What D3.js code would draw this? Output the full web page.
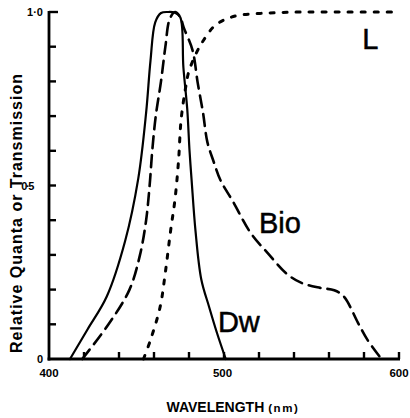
<!DOCTYPE html>
<html>
<head>
<meta charset="utf-8">
<script src="https://cdn.jsdelivr.net/npm/d3@7"></script>
<style>
  html, body { margin: 0; padding: 0; background: #fff; }
  svg { display: block; }
  text { font-family: "Liberation Sans", Arial, Helvetica, sans-serif; fill: #000; }
</style>
</head>
<body>
<svg id="chart" width="410" height="418"></svg>
<script>
// Spectral curves: wavelength (nm) and relative value
const dwWave  = [412, 422, 433, 443.5, 451, 455.5, 458, 460.7, 464, 468, 472, 475, 476.8, 479, 480.3, 481.5, 483.7, 487, 491.5, 496, 501];
const dwValue = [0, 0.085, 0.18, 0.34, 0.52, 0.71, 0.86, 0.97, 0.997, 1.0, 0.998, 0.985, 0.84, 0.72, 0.6, 0.515, 0.37, 0.23, 0.15, 0.075, 0];

const bioWave  = [419, 434, 446, 452, 455.5, 457.5, 459, 461, 464, 466.5, 469, 472, 475, 477, 482, 485, 488, 490.5, 494, 498, 505, 515, 525, 536, 544, 555, 563, 568.5, 576.5, 582, 590];
const bioValue = [0, 0.1, 0.2, 0.3, 0.4, 0.5, 0.6, 0.7, 0.8, 0.9, 0.98, 1.0, 0.985, 0.955, 0.89, 0.795, 0.71, 0.625, 0.57, 0.515, 0.455, 0.365, 0.305, 0.245, 0.22, 0.205, 0.198, 0.18, 0.105, 0.055, 0];

const lWave  = [454, 458, 463.5, 466.5, 469.5, 472, 474, 475.5, 478, 480, 485, 488.5, 494, 500, 508, 525, 545, 570, 596];
const lValue = [0, 0.055, 0.15, 0.25, 0.37, 0.46, 0.57, 0.69, 0.78, 0.83, 0.89, 0.92, 0.957, 0.977, 0.99, 0.997, 1.0, 1.0, 1.0];

// Axis ticks and labels
const xTicks = [420, 440, 460, 480, 500, 520, 540, 560, 580, 600];
const xTickLabels = ["400", "500", "600"];
const xTickLabelValues = [400, 500, 600];
const yTicks = [0.1, 0.2, 0.3, 0.4, 0.5, 0.6, 0.7, 0.8, 0.9, 1.0];
const yTickLabels = ["0", "0·5", "1·0"];
const yTickLabelValues = [0, 0.5, 1.0];

// Curve labels
const curveNames = ["L", "Bio", "Dw"];
const curveNameWave = [579, 520, 496.5];
const curveNameValue = [0.893, 0.363, 0.078];

const svg = d3.select("#chart");
const x = d3.scaleLinear().domain([400, 600]).range([49, 399]);
const y = d3.scaleLinear().domain([0, 1]).range([359, 12]);

// Axis lines
svg.append("line").attr("x1", x(400)).attr("x2", x(400)).attr("y1", y(1) - 1).attr("y2", y(0) + 1.5)
  .attr("stroke", "#000").attr("stroke-width", 2.8);
svg.append("line").attr("x1", x(400) - 1.4).attr("x2", x(600) + 1).attr("y1", y(0)).attr("y2", y(0))
  .attr("stroke", "#000").attr("stroke-width", 2.8);

// Inward ticks
svg.append("g").attr("class", "xticks")
  .selectAll("rect").data(xTicks).enter().append("rect")
  .attr("x", d => x(d) - 1.2).attr("y", y(0) - 7)
  .attr("width", 2.4).attr("height", 7)
  .attr("fill", "#000");

svg.append("g").attr("class", "yticks")
  .selectAll("rect").data(yTicks).enter().append("rect")
  .attr("x", x(400)).attr("y", d => y(d) - 1.2)
  .attr("width", d => d === 1.0 ? 9 : 7).attr("height", 2.4)
  .attr("fill", "#000");

// Tick labels
svg.selectAll(".xlab").data(xTickLabelValues).enter().append("text")
  .attr("x", d => x(d) - (d === 500 ? 1.5 : 0))
  .attr("y", y(0) + 18)
  .attr("text-anchor", "middle")
  .attr("font-size", 11.5).attr("font-weight", "bold")
  .text((d, i) => xTickLabels[i]);

const yLabDx = { 0: -6, 0.5: -16, 1: -6 };
svg.selectAll(".ylab").data(yTickLabelValues).enter().append("text")
  .attr("x", d => x(400) + yLabDx[d])
  .attr("y", d => y(d) + 4)
  .attr("text-anchor", "end")
  .attr("font-size", 11).attr("font-weight", "bold")
  .attr("letter-spacing", d => d === 0.5 ? -1.4 : 0)
  .text((d, i) => yTickLabels[i]);

// Axis titles
svg.append("text")
  .attr("transform", `translate(21.5,213) rotate(-90)`)
  .attr("text-anchor", "middle")
  .attr("font-size", 16).attr("font-weight", "bold")
  .attr("letter-spacing", 1)
  .text("Relative Quanta or Transmission");

const xt = svg.append("text")
  .attr("x", 233).attr("y", 412)
  .attr("text-anchor", "middle")
  .attr("font-weight", "bold");
xt.append("tspan").attr("font-size", 14).text("WAVELENGTH ");
xt.append("tspan").attr("font-size", 11.5).attr("letter-spacing", 1.6).text("(nm)");

// Curves
const line = d3.line().x(d => x(d[0])).y(d => y(d[1])).curve(d3.curveCatmullRom.alpha(0.5));
const zip = (a, b) => a.map((v, i) => [v, b[i]]);

svg.append("path").datum(zip(dwWave, dwValue)).attr("d", line)
  .attr("fill", "none").attr("stroke", "#000").attr("stroke-width", 2.2)
  .attr("stroke-linecap", "round");

svg.append("path").datum(zip(bioWave, bioValue)).attr("d", line)
  .attr("fill", "none").attr("stroke", "#000").attr("stroke-width", 2.6)
  .attr("stroke-dasharray", "12 7").attr("stroke-linecap", "round");

svg.append("path").datum(zip(lWave, lValue)).attr("d", line)
  .attr("fill", "none").attr("stroke", "#000").attr("stroke-width", 3)
  .attr("stroke-dasharray", "4 9").attr("stroke-linecap", "round");

// Curve names
svg.selectAll(".cname").data(curveNames).enter().append("text")
  .attr("x", (d, i) => x(curveNameWave[i]))
  .attr("y", (d, i) => y(curveNameValue[i]))
  .attr("font-size", 29)
  .attr("stroke", "#000").attr("stroke-width", 0.5)
  .text(d => d);
</script>
</body>
</html>
